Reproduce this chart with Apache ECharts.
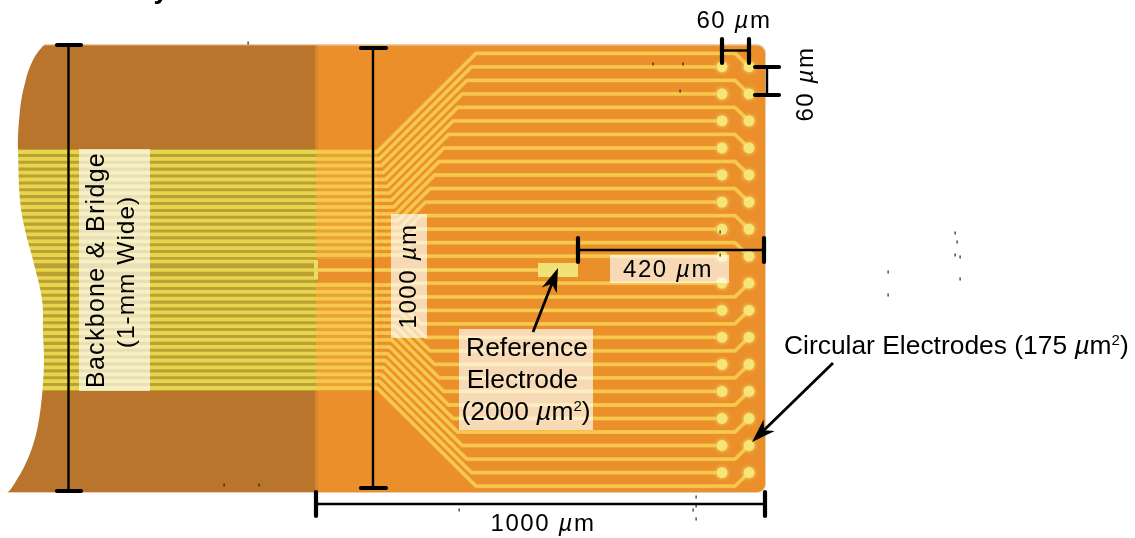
<!DOCTYPE html>
<html>
<head>
<meta charset="utf-8">
<style>html,body{margin:0;padding:0;background:#fff}#c{width:1135px;height:538px}</style>
<script src="https://cdn.jsdelivr.net/npm/echarts@6/dist/echarts.min.js"></script>
</head>
<body>
<div id="c"></div>
<script>
// Data (axis units = picture units; 449 units = 1000 um)
const titleText = 'Probe Array Head';
const outlineX = [44,38,33,28,25,22,20,18,18,20,25,33,42,43,44,43,41,38,33,25,16,8];
const outlineY = [45,52,60,72,83,96,110,137,150,200,230,260,300,333,360,383,405,425,445,465,481,492];
const rowRightY = [53.3,66.8,80.3,93.9,107.4,120.9,134.4,148,161.5,175,188.5,202.1,215.6,229.1,242.6,256.2,
  283.2,296.8,310.3,323.8,337.3,350.9,364.4,377.9,391.4,405,418.5,432,445.5,459.1,472.6,486.1];
const rowLeftY = [152,158.9,165.7,172.6,179.5,186.4,193.2,200.1,207,213.8,220.7,227.6,234.4,241.3,248.2,255,
  285,291.8,298.7,305.6,312.4,319.3,326.2,333,339.9,346.8,353.6,360.5,367.4,374.3,381.1,388];
const kinkLeftX = [377.3,379.3,381.4,383.5,385.5,387.5,389.6,391.7,393.7,395.8,397.8,399.9,402,404,406,408,
  408,406,404,402,399.9,397.8,395.8,393.7,391.7,389.6,387.5,385.5,383.5,381.4,379.3,377.3];
const kinkRightX = [476,471.4,466.8,462.2,457.6,453,448.4,443.8,439.2,434.6,430,425.4,420.8,416.2,411.6,408,
  408,411.6,416.2,420.8,425.4,430,434.6,439.2,443.8,448.4,453,457.6,462.2,466.8,471.4,476];
const electrodeY = [66.8,93.9,120.9,148,175,202.1,229.1,256.2,283.2,310.3,337.3,364.4,391.4,418.5,445.5,472.6];
const electrodeColX = [722,749];
const referenceTraceY = [261.5,270,278];
const referencePad = [538,263,578,277];
const dimensionLines = [
  [68.5,45,68.5,491],[373,48,373,488],[316,504,765,504],[722,50.5,749,50.5],[767,67,767,95],[578,250,764,250]];
const dimensionCaps = [
  [57,45,81,45],[57,491,81,491],[361,48,386,48],[361,488,386,488],[316,492,316,516],[765,492,765,516],
  [722,39,722,63],[749,39,749,63],[755,67,779,67],[755,95,779,95],[578,238,578,262],[764,238,764,262]];
const arrows = [[533,332,558,268],[833,363,752,442]];
const labelBoxes = [[79,149,150,391],[391,214,427,338],[459,329,593,430],[610,255,729,283]];
const specks = [[248,43],[653,64],[683,64],[680,91],[224,485],[259,485],[459,510],[696,497],[696,506],[693,510],[696,519],
  [955,233],[957,242],[955,255],[960,257],[960,279],[888,272],[888,295],[720,232],[720,255]];
const um = '{i|\u00b5}m';
const spacedLabels = [
  ['60 '+um,734,21,0],['60 '+um,806,84,90],['1000 '+um,409,276,90],['420 '+um,668,270,0],['1000 '+um,543,524,0]];
const plainLabels = [
  ['Reference',527,349,'center'],['Electrode',522.5,381,'center'],['(2000 '+um+'{s|2})',526,413,'center'],
  ['Circular Electrodes (175 '+um+'{s|2})',784,347,'left']];

// canvas letter spacing for the tracked labels
const spacingBySize = {'24px':'1.6px','25px':'1.3px','24.5px':'1px'};
const P = CanvasRenderingContext2D.prototype;
['fillText','strokeText','measureText'].forEach(function(n){
  const f = P[n];
  P[n] = function(){
    const m = /([\d.]+px)/.exec(this.font);
    this.letterSpacing = (m && spacingBySize[m[1]]) || '0px';
    return f.apply(this, arguments);
  };
});

const FONT = '"Liberation Sans", Arial, sans-serif';
const chart = echarts.init(document.getElementById('c'), null, {renderer:'canvas'});

function renderItem(params, api){
  const c = (x,y) => api.coord([x,y]);
  const kids = [];
  const poly = (pts,color,w,cap) => kids.push({type:'polyline',shape:{points:pts.map(p=>c(p[0],p[1]))},
    style:{stroke:color,lineWidth:w,fill:null,lineCap:cap||'butt',lineJoin:'round'}});
  const rect = (x0,y0,x1,y1,color,r) => {
    const a=c(x0,y0),b=c(x1,y1);
    kids.push({type:'rect',shape:{x:a[0],y:a[1],width:b[0]-a[0],height:b[1]-a[1],r:r||0},style:{fill:color}});
  };

  // probe body
  rect(0,44,766,493,'#E8CDB0',[0,9,9,0]);
  rect(0,45.5,765,492,'#EB8F2A',[0,8,8,0]);
  rect(0,45.5,315,492,'#B8752B');
  rect(315,45.5,318,492,'#D8862B');

  // backbone band
  rect(0,149,316,391,'#BCA036');
  rect(316,149,377,259,'#E9A233');
  rect(316,282,377,391,'#E9A233');

  // traces
  rowLeftY.forEach((yl,i)=>{
    const yr = rowRightY[i];
    const pts = [[316,yl],[kinkLeftX[i],yl],[kinkRightX[i],yr]];
    const straight = electrodeY.indexOf(yr) >= 0;
    if (straight) {
      pts.push([716,yr]);
    } else {
      const e = electrodeY.find(v=>Math.abs(v-yr)<14 && (i<16 ? v>yr : v<yr));
      pts.push([735,yr],[electrodeColX[1],e]);
    }
    poly(pts,'rgba(247,205,85,0.35)',4.2);
    poly(pts,'#F6C94E',3.3);
    poly([[0,yl],[316,yl]],'#E6D64C',3.8);
  });
  referenceTraceY.forEach(y=>{poly([[0,y],[316,y]],'#E6D64C',3.6);});
  poly([[316,260],[316,279.5]],'#E4E060',4);
  poly([[316,270],[referencePad[0],270]],'#F6D055',3.6);
  rect(referencePad[0],referencePad[1],referencePad[2],referencePad[3],'#F0E276');

  // electrodes
  electrodeColX.forEach(x=>electrodeY.forEach(y=>{
    const a=c(x,y);
    kids.push({type:'circle',shape:{cx:a[0],cy:a[1],r:5.4},style:{fill:'#F6E678',shadowBlur:4,shadowColor:'#F6E678'}});
  }));

  // white mask left of the curved cut edge
  const mask = [[-60,-60],[60,-60],[60,28]].concat(outlineX.map((x,i)=>[x,outlineY[i]])).concat([[-8,503],[-60,560]]);
  kids.push({type:'polygon',shape:{points:mask.map(p=>c(p[0],p[1])),smooth:0.4},style:{fill:'#fff'}});

  // label backings
  labelBoxes.forEach(b=>rect(b[0],b[1],b[2],b[3],'rgba(255,255,255,0.66)'));

  // dimension marks
  dimensionLines.forEach(l=>poly([[l[0],l[1]],[l[2],l[3]]],'#000',2.4));
  dimensionCaps.forEach(l=>poly([[l[0],l[1]],[l[2],l[3]]],'#000',4.2,'round'));

  // arrows
  arrows.forEach(a=>{
    const p0=c(a[0],a[1]),p1=c(a[2],a[3]);
    const ang=Math.atan2(p1[1]-p0[1],p1[0]-p0[0]);
    const at=(d,o)=>[p1[0]-d*Math.cos(ang)-o*Math.sin(ang),p1[1]-d*Math.sin(ang)+o*Math.cos(ang)];
    kids.push({type:'line',shape:{x1:p0[0],y1:p0[1],x2:at(12,0)[0],y2:at(12,0)[1]},style:{stroke:'#000',lineWidth:2.8}});
    kids.push({type:'polygon',shape:{points:[p1,at(24,8),at(17,0),at(24,-8)]},style:{fill:'#000'}});
  });

  // specks
  specks.forEach(s=>{const a=c(s[0],s[1]);kids.push({type:'rect',shape:{x:a[0]-0.5,y:a[1]-1.5,width:1.2,height:3},style:{fill:'#222'}});});

  // text
  const txt = (t,x,y,size,rot,align) => {
    const a=c(x,y);
    kids.push({type:'text',x:a[0],y:a[1],rotation:(rot||0)*Math.PI/180,style:{
      text:t,fontSize:size,fontFamily:FONT,fill:'#000',align:align||'center',verticalAlign:'middle',
      rich:{i:{fontSize:size,fontStyle:'italic',fontFamily:FONT,fill:'#000'},
            s:{fontSize:15,fontFamily:FONT,fill:'#000',verticalAlign:'top',lineHeight:size}}}});
  };
  txt('Backbone & Bridge',97.5,270,25,90);
  txt('(1-mm Wide)',127,272,24.5,90);
  spacedLabels.forEach(l=>txt(l[0],l[1],l[2],24,l[3]));
  plainLabels.forEach(l=>txt(l[0],l[1],l[2],26.4,0,l[3]));
  const t=c(14,4.5);
  kids.push({type:'text',x:t[0],y:t[1],style:{text:titleText,fontSize:27,fontWeight:'bold',fontFamily:FONT,fill:'#000',align:'left',verticalAlign:'bottom'}});
  return {type:'group',children:kids};
}

chart.setOption({
  animation:false,
  backgroundColor:'#fff',
  grid:{left:0,right:0,top:0,bottom:0},
  xAxis:{type:'value',min:0,max:1135,show:false},
  yAxis:{type:'value',min:0,max:538,inverse:true,show:false},
  series:[{type:'custom',coordinateSystem:'cartesian2d',clip:false,silent:true,data:[[0,0]],renderItem:renderItem}]
});
</script>
</body>
</html>
